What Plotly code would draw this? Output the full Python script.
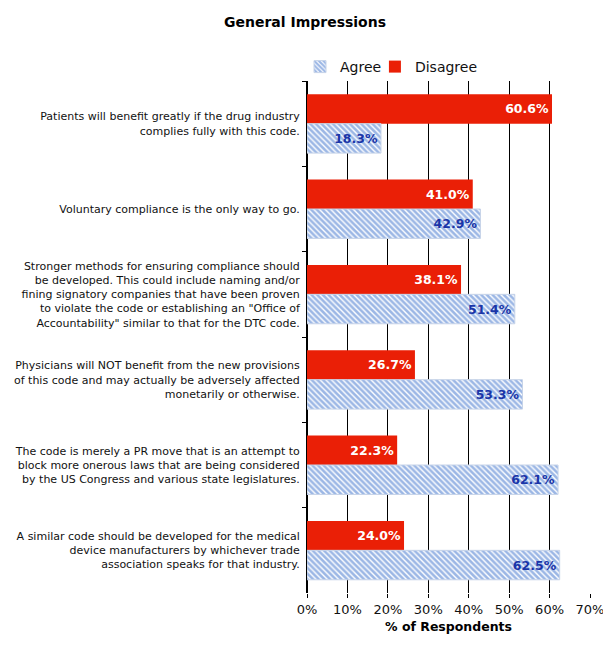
import plotly.graph_objects as go

categories = [
    "Patients will benefit greatly if the drug industry<br>complies fully with this code.",
    "Voluntary compliance is the only way to go.",
    "Stronger methods for ensuring compliance should<br>be developed. This could include naming and/or<br>fining signatory companies that have been proven<br>to violate the code or establishing an \"Office of<br>Accountability\" similar to that for the DTC code.",
    "Physicians will NOT benefit from the new provisions<br>of this code and may actually be adversely affected<br>monetarily or otherwise.",
    "The code is merely a PR move that is an attempt to<br>block more onerous laws that are being considered<br>by the US Congress and various state legislatures.",
    "A similar code should be developed for the medical<br>device manufacturers by whichever trade<br>association speaks for that industry.",
]
agree = [18.3, 42.9, 51.4, 53.3, 62.1, 62.5]
disagree = [60.6, 41.0, 38.1, 26.7, 22.3, 24.0]
x_ticks = [0, 10, 20, 30, 40, 50, 60, 70]
x_tick_labels = ["0%", "10%", "20%", "30%", "40%", "50%", "60%", "70%"]

FONT = "Verdana, DejaVu Sans, sans-serif"

# page body has an 8px default margin, so the figure is drawn 8px smaller
W, H = 603, 641

fig = go.Figure()
fig.add_trace(go.Bar(
    name="Disagree", y=categories, x=disagree, orientation="h", legend="legend2",
    showlegend=True,
    marker=dict(color="#ea1f06", line=dict(color="#ea1f06", width=0)),
    texttemplate="%{x:.1f}%", textposition="inside", insidetextanchor="end",
    textfont=dict(family=FONT, size=12.5, color="#ffffff", weight="bold"),
    cliponaxis=False,
))
fig.add_trace(go.Bar(
    name="Agree", y=categories, x=agree, orientation="h", legend="legend",
    showlegend=True,
    marker=dict(color="#ffffff",
                line=dict(color="#c6d3e8", width=1),
                pattern=dict(shape="\\", fgcolor="#3a70cc", bgcolor="#ffffff",
                             size=4, solidity=0.66)),
    texttemplate="%{x:.1f}%", textposition="inside", insidetextanchor="end",
    textfont=dict(family=FONT, size=12.5, color="#1a35a8", weight="bold"),
    cliponaxis=False,
))

legend_style = dict(orientation="h", xanchor="left", y=1 + 14 / 512, yanchor="middle",
                    font=dict(family=FONT, size=14, color="#111111"),
                    itemwidth=30, bgcolor="rgba(0,0,0,0)", visible=True)

fig.update_layout(
    width=W, height=H,
    showlegend=True,
    margin=dict(l=299, r=21, t=73, b=56, autoexpand=False),
    paper_bgcolor="white", plot_bgcolor="white",
    barmode="group", bargap=0.31, bargroupgap=0,
    font=dict(family=FONT, size=11, color="#111111"),
    title=dict(text="<b>General Impressions</b>", x=(305 - 8) / W, xanchor="center",
               y=1 - 14 / H, yanchor="middle", yref="container", pad=dict(t=0, b=0),
               font=dict(family=FONT, size=14, color="#000000")),
    legend=dict(x=-0.0247, **legend_style),
    legend2=dict(x=0.240, **legend_style),
)
fig.update_xaxes(
    range=[0, 70], tickvals=x_ticks, ticktext=x_tick_labels, automargin=False,
    showgrid=True, gridcolor="#000000", gridwidth=1,
    showline=False, zeroline=True, zerolinecolor="#000000", zerolinewidth=1,
    ticks="outside", ticklen=4, tickcolor="#000000",
    tickfont=dict(family=FONT, size=13, color="#111111"),
    title=dict(text="<b>% of Respondents</b>", font=dict(family=FONT, size=12.5, color="#000000"),
               standoff=6),
)
fig.update_yaxes(
    autorange="reversed", showgrid=False, automargin=False,
    showline=True, linecolor="#000000", linewidth=1,
    ticks="outside", tickson="boundaries", ticklen=4, tickcolor="#000000",
    ticklabelstandoff=4,
    tickfont=dict(family=FONT, size=11, color="#111111"),
)

fig.write_html("out.html")
